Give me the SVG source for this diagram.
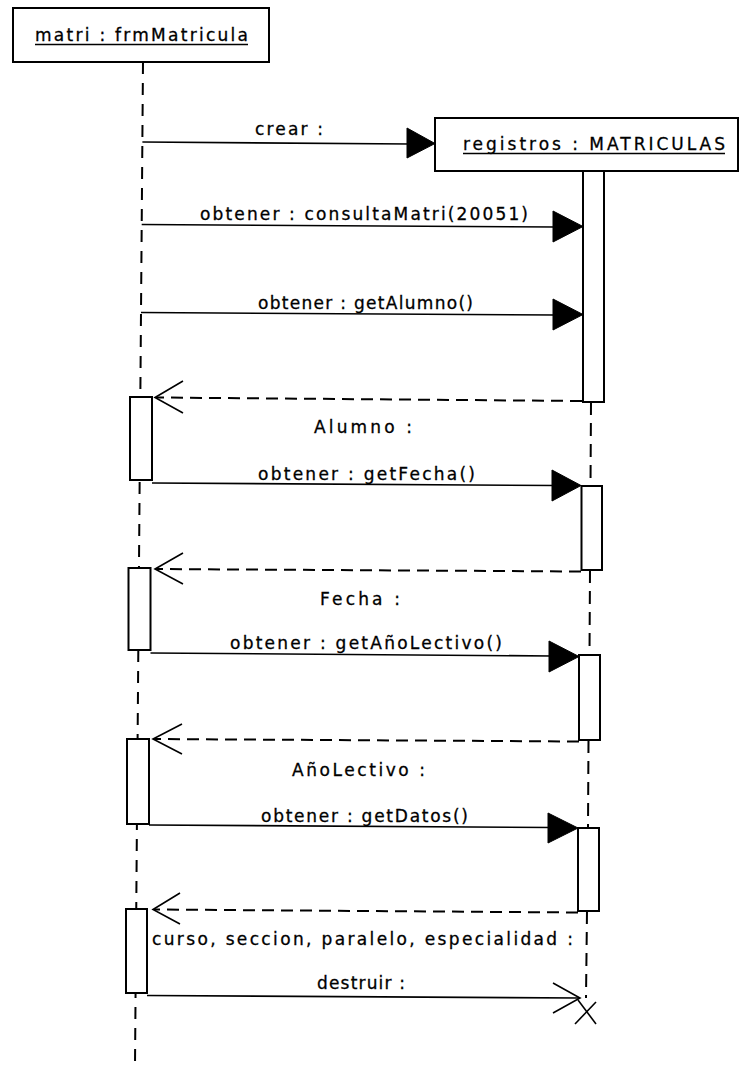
<svg xmlns="http://www.w3.org/2000/svg" width="740" height="1075" viewBox="0 0 740 1075">
<style>
  .box { fill: #fff; stroke: #000; stroke-width: 2; }
  .act { fill: #fff; stroke: #000; stroke-width: 2; }
  .t { font-family: "DejaVu Sans", "Liberation Sans", Arial, sans-serif; font-size: 17px; fill: #000; stroke: #000; stroke-width: 0.3; }
  .ul { stroke: #000; stroke-width: 1.5; }
  .life { stroke: #000; stroke-width: 2; stroke-dasharray: 12 9; fill: none; }
  .lifer { stroke: #000; stroke-width: 2; stroke-dasharray: 13 8; fill: none; }
  .msg { stroke: #000; stroke-width: 1.6; fill: none; }
  .ret { stroke: #000; stroke-width: 2; stroke-dasharray: 12 7; fill: none; }
  .head { fill: #000; stroke: #000; stroke-width: 1; }
  .open { stroke: #000; stroke-width: 1.6; fill: none; }
</style>
<rect width="740" height="1075" fill="#fff"/>

<g id="lifelines">
  <line class="life" x1="143" y1="62" x2="135" y2="1065"/>
  <line class="lifer" x1="591" y1="402" x2="590.5" y2="486"/>
  <line class="lifer" x1="590" y1="570" x2="589.5" y2="655"/>
  <line class="lifer" x1="588.5" y1="740" x2="588" y2="828"/>
  <line class="lifer" x1="587" y1="911" x2="586" y2="998"/>
</g>

<g id="matri">
  <rect class="box" x="13" y="8" width="256" height="54"/>
  <text class="t" x="35" y="41" textLength="213" lengthAdjust="spacing">matri : frmMatricula</text>
  <line class="ul" x1="35" y1="44.5" x2="248" y2="44.5"/>
</g>

<g id="registros">
  <rect class="box" x="435" y="118" width="303" height="53"/>
  <text class="t" x="463" y="150" textLength="262" lengthAdjust="spacing">registros : MATRICULAS</text>
  <line class="ul" x1="463" y1="153.5" x2="725" y2="153.5"/>
</g>

<g id="activations">
  <rect class="act" x="583" y="171" width="21" height="231"/>
  <rect class="act" x="581.5" y="486" width="20.5" height="84"/>
  <rect class="act" x="579" y="655" width="21" height="85"/>
  <rect class="act" x="578" y="828" width="21" height="83"/>
  <rect class="act" x="130" y="397" width="22" height="83"/>
  <rect class="act" x="128.5" y="568" width="22" height="82"/>
  <rect class="act" x="127" y="739" width="22" height="85"/>
  <rect class="act" x="126" y="909" width="21" height="84"/>
</g>

<g id="connectors">
  <line class="msg" x1="142.4" y1="142" x2="410" y2="144"/>
  <polygon class="head" points="407,128 435,143.5 407,158"/>
  <line class="msg" x1="141.7" y1="224.5" x2="556" y2="227"/>
  <polygon class="head" points="553,211 583,226.5 553,242"/>
  <line class="msg" x1="141" y1="312.5" x2="556" y2="315"/>
  <polygon class="head" points="553,299 583,314.5 553,330"/>
  <line class="ret" x1="582" y1="401" x2="156" y2="397.5"/>
  <polyline class="open" points="183,381 155,397.5 183,413"/>
  <line class="msg" x1="152" y1="483" x2="555" y2="485.5"/>
  <polygon class="head" points="552,470 581,485.5 552,501"/>
  <line class="ret" x1="581" y1="571.5" x2="156" y2="569"/>
  <polyline class="open" points="183,553 155,569 183,584"/>
  <line class="msg" x1="150.5" y1="653" x2="552" y2="656"/>
  <polygon class="head" points="549,641 579,656.5 549,672"/>
  <line class="ret" x1="579" y1="741.5" x2="154" y2="739"/>
  <polyline class="open" points="182,724 153,739 182,754"/>
  <line class="msg" x1="149" y1="825" x2="551" y2="827.5"/>
  <polygon class="head" points="548,813 578,828 548,843"/>
  <line class="ret" x1="578" y1="912.5" x2="154" y2="909.5"/>
  <polyline class="open" points="180,893 153,909.5 180,924"/>
  <line class="msg" x1="147" y1="995.5" x2="580" y2="998"/>
  <polyline class="open" points="553,983 580,998 553,1013"/>
  <line class="open" x1="578" y1="1000" x2="596" y2="1024"/>
  <line class="open" x1="596" y1="1002" x2="575" y2="1024"/>
</g>

<g id="labels">
  <text class="t" x="255" y="135" textLength="68" lengthAdjust="spacing">crear :</text>
  <text class="t" x="200" y="220" textLength="328" lengthAdjust="spacing">obtener : consultaMatri(20051)</text>
  <text class="t" x="258" y="309" textLength="215" lengthAdjust="spacing">obtener : getAlumno()</text>
  <text class="t" x="314" y="433" textLength="98" lengthAdjust="spacing">Alumno :</text>
  <text class="t" x="258" y="480" textLength="217" lengthAdjust="spacing">obtener : getFecha()</text>
  <text class="t" x="320" y="605" textLength="80" lengthAdjust="spacing">Fecha :</text>
  <text class="t" x="230" y="649" textLength="272" lengthAdjust="spacing">obtener : getAñoLectivo()</text>
  <text class="t" x="292" y="776" textLength="133" lengthAdjust="spacing">AñoLectivo :</text>
  <text class="t" x="261" y="822" textLength="207" lengthAdjust="spacing">obtener : getDatos()</text>
  <text class="t" x="152" y="945" textLength="421" lengthAdjust="spacing">curso, seccion, paralelo, especialidad :</text>
  <text class="t" x="317" y="989" textLength="88" lengthAdjust="spacing">destruir :</text>
</g>
</svg>
